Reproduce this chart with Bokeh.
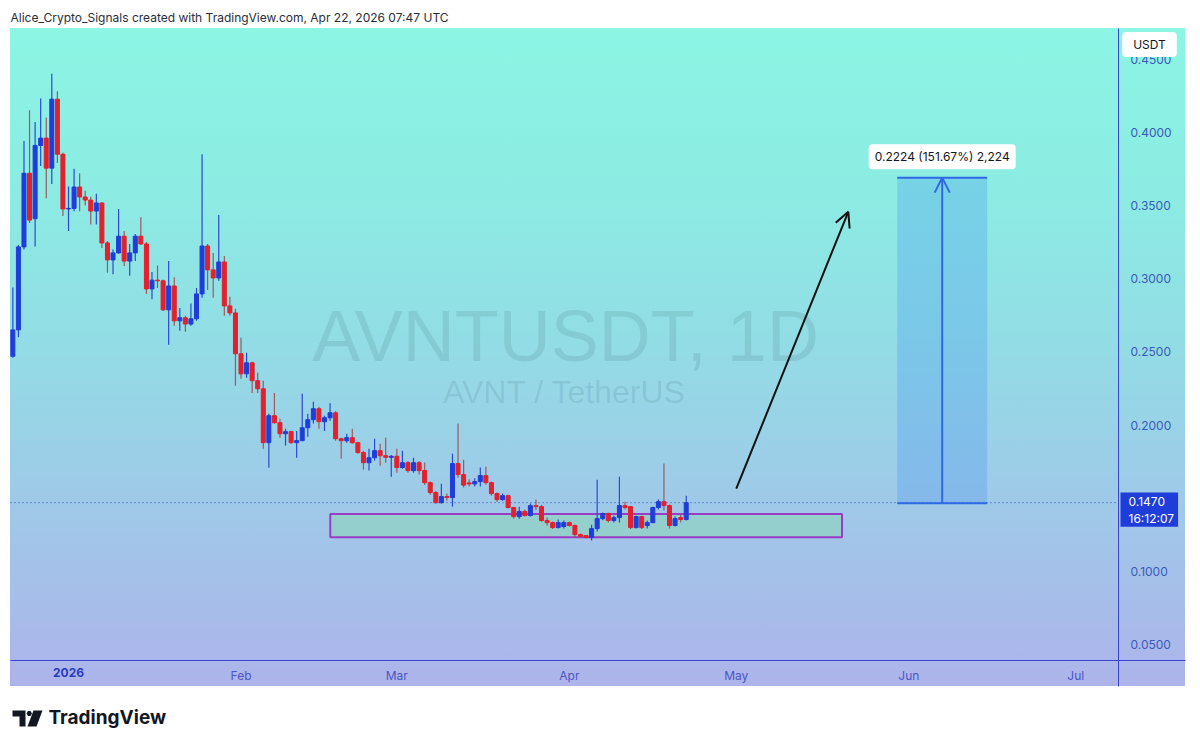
import pandas as pd
from bokeh.plotting import figure
from bokeh.models import (ColumnDataSource, Range1d, FixedTicker, NumeralTickFormatter,
                          LinearAxis, Label, Arrow, OpenHead, PolyAnnotation)
from bokeh.embed import file_html
from bokeh.resources import INLINE

# ---------------- data ----------------
first_day = "2025-12-22"
open_ = [0.247, 0.265, 0.3217, 0.372, 0.341, 0.391, 0.396, 0.3755, 0.4226, 0.385,
         0.3476, 0.348, 0.3626, 0.3558, 0.3537, 0.3462, 0.3517, 0.3244, 0.3128, 0.3176,
         0.329, 0.312, 0.3176, 0.329, 0.3237, 0.293, 0.299, 0.2985, 0.2787, 0.295,
         0.2712, 0.2733, 0.269, 0.2726, 0.2896, 0.3223, 0.306, 0.3005, 0.3114, 0.2814,
         0.2766, 0.2487, 0.235, 0.2425, 0.2303, 0.2248, 0.188, 0.2064, 0.2016, 0.1941,
         0.1955, 0.188, 0.1894, 0.1982, 0.2037, 0.2112, 0.2023, 0.205, 0.2084, 0.1907,
         0.1893, 0.1914, 0.188, 0.1812, 0.1743, 0.1777, 0.1825, 0.1791, 0.178, 0.1787,
         0.171, 0.1743, 0.1689, 0.1743, 0.169, 0.1607, 0.1539, 0.147, 0.1512, 0.1505,
         0.1737, 0.1662, 0.1605, 0.1598, 0.1614, 0.1655, 0.1607, 0.1532, 0.1491, 0.1518,
         0.1437, 0.1375, 0.141, 0.1382, 0.145, 0.1443, 0.1348, 0.1334, 0.13, 0.1307,
         0.1334, 0.1314, 0.1252, 0.1245, 0.1232, 0.1293, 0.1361, 0.1396, 0.1348, 0.1368,
         0.145, 0.1443, 0.13, 0.1375, 0.1314, 0.1334, 0.1437, 0.1477, 0.145, 0.1314,
         0.1368, 0.1355]
high_ = [0.294, 0.323, 0.394, 0.415, 0.407, 0.423, 0.410, 0.440, 0.428, 0.386,
         0.363, 0.375, 0.372, 0.360, 0.356, 0.358, 0.352, 0.3257, 0.320, 0.3476,
         0.3326, 0.3237, 0.3305, 0.342, 0.325, 0.3046, 0.309, 0.2995, 0.312, 0.301,
         0.280, 0.2746, 0.283, 0.2937, 0.385, 0.3237, 0.3176, 0.3435, 0.3155, 0.2876,
         0.2794, 0.2596, 0.2494, 0.2432, 0.2357, 0.2303, 0.2078, 0.222, 0.2043, 0.1975,
         0.1962, 0.196, 0.2214, 0.2078, 0.216, 0.2125, 0.2064, 0.215, 0.2095, 0.1914,
         0.194, 0.1975, 0.1887, 0.1825, 0.1839, 0.1907, 0.1873, 0.1914, 0.1795, 0.1839,
         0.1825, 0.1755, 0.1777, 0.1755, 0.1745, 0.1614, 0.155, 0.16, 0.1532, 0.1805,
         0.201, 0.1764, 0.163, 0.1637, 0.171, 0.1716, 0.1614, 0.154, 0.1532, 0.1525,
         0.1443, 0.1443, 0.1423, 0.1464, 0.1491, 0.1455, 0.1368, 0.1341, 0.1355, 0.1348,
         0.1341, 0.1321, 0.1259, 0.1248, 0.132, 0.1627, 0.1403, 0.1403, 0.138, 0.1648,
         0.1477, 0.1448, 0.138, 0.138, 0.1348, 0.1443, 0.1491, 0.1737, 0.1457, 0.1375,
         0.139, 0.1518]
low_ = [0.246, 0.260, 0.320, 0.338, 0.322, 0.377, 0.355, 0.3646, 0.379, 0.3428,
        0.3326, 0.346, 0.346, 0.350, 0.337, 0.337, 0.321, 0.304, 0.303, 0.317,
        0.3087, 0.302, 0.312, 0.323, 0.2896, 0.286, 0.2937, 0.278, 0.2548, 0.2678,
        0.2644, 0.2637, 0.2678, 0.2712, 0.287, 0.2923, 0.287, 0.2985, 0.2746, 0.2746,
        0.2269, 0.2316, 0.2323, 0.222, 0.222, 0.1839, 0.1709, 0.201, 0.1914, 0.186,
        0.1873, 0.1777, 0.189, 0.192, 0.201, 0.1975, 0.196, 0.203, 0.1893, 0.177,
        0.188, 0.1873, 0.1805, 0.1696, 0.169, 0.1757, 0.1723, 0.1743, 0.1648, 0.1675,
        0.1702, 0.1675, 0.1675, 0.1662, 0.159, 0.1525, 0.1464, 0.1464, 0.1484, 0.1443,
        0.164, 0.1573, 0.158, 0.158, 0.158, 0.1593, 0.1518, 0.1477, 0.1484, 0.143,
        0.136, 0.136, 0.1375, 0.1375, 0.142, 0.134, 0.1314, 0.129, 0.1293, 0.1293,
        0.1307, 0.1232, 0.1232, 0.1225, 0.1211, 0.1273, 0.135, 0.1334, 0.1334, 0.1334,
        0.1423, 0.129, 0.1293, 0.129, 0.1293, 0.133, 0.1423, 0.1416, 0.1293, 0.1307,
        0.1334, 0.1348]
close_ = [0.265, 0.3217, 0.372, 0.340, 0.391, 0.396, 0.3755, 0.4226, 0.385, 0.3476,
          0.348, 0.3626, 0.3558, 0.3537, 0.3462, 0.3517, 0.3244, 0.3128, 0.3176, 0.329,
          0.312, 0.3176, 0.329, 0.3237, 0.293, 0.299, 0.2985, 0.2787, 0.295, 0.2712,
          0.2733, 0.269, 0.2726, 0.2896, 0.3223, 0.306, 0.3005, 0.3114, 0.2814, 0.2766,
          0.2487, 0.235, 0.2425, 0.2303, 0.2248, 0.188, 0.2064, 0.2016, 0.1941, 0.1955,
          0.188, 0.1894, 0.1982, 0.2037, 0.2112, 0.2023, 0.205, 0.2084, 0.1907, 0.1893,
          0.1914, 0.188, 0.1812, 0.1743, 0.1777, 0.1825, 0.1791, 0.178, 0.1787, 0.171,
          0.1743, 0.1689, 0.1743, 0.1689, 0.1607, 0.1539, 0.147, 0.1512, 0.1505, 0.1737,
          0.1662, 0.159, 0.1598, 0.1614, 0.1655, 0.1607, 0.1532, 0.1491, 0.1518, 0.1437,
          0.1375, 0.141, 0.1382, 0.145, 0.1443, 0.1348, 0.1334, 0.13, 0.1334, 0.1334,
          0.1314, 0.1252, 0.124, 0.1232, 0.1293, 0.1361, 0.1396, 0.1348, 0.1368, 0.145,
          0.1437, 0.13, 0.1375, 0.13, 0.1334, 0.1437, 0.1477, 0.145, 0.1314, 0.1361,
          0.1355, 0.147]

month_ticks = ["2026-01-01", "2026-02-01", "2026-03-01", "2026-04-01",
               "2026-05-01", "2026-06-01", "2026-07-01"]
month_labels = ["2026", "Feb", "Mar", "Apr", "May", "Jun", "Jul"]
price_ticks = [0.05, 0.10, 0.15, 0.20, 0.25, 0.30, 0.35, 0.40, 0.45]

zone_dates = ["2026-02-17 01:00", "2026-05-20 00:00"]
zone_prices = [0.1234, 0.1393]

arrow_dates = ["2026-05-01 00:00", "2026-05-21 03:00"]
arrow_prices = [0.1566, 0.3457]

measure_dates = ["2026-05-29 22:00", "2026-06-15 02:00"]
measure_prices = [0.1466, 0.3690]
measure_text = "0.2224 (151.67%) 2,224"

symbol_text = "AVNTUSDT, 1D"
pair_text = "AVNT / TetherUS"
currency_text = "USDT"
countdown_text = "16:12:07"
header_text = "Alice_Crypto_Signals created with TradingView.com, Apr 22, 2026 07:47 UTC"
brand_text = "TradingView"

# ---------------- derived ----------------
origin = pd.Timestamp("2026-01-01")


def day(s):
    return (pd.Timestamp(s) - origin) / pd.Timedelta(days=1)


dates = pd.date_range(first_day, periods=len(close_), freq="D")
xday = [(d - origin) / pd.Timedelta(days=1) for d in dates]

UP, DOWN = "#1f3dd8", "#e3202c"
UP_WICK, DOWN_WICK = "#2b4ad2", "#a0585c"
up = [c >= o for o, c in zip(open_, close_)]
src = ColumnDataSource(dict(
    x=xday, open=open_, high=high_, low=low_, close=close_,
    top=[max(o, c) for o, c in zip(open_, close_)],
    bottom=[min(o, c) for o, c in zip(open_, close_)],
    body=[UP if u else DOWN for u in up],
    wick=[UP_WICK if u else DOWN_WICK for u in up],
))

# ---------------- figure: the frame covers the whole picture ----------------
W, H = 1190, 742
X0, X1 = -12.22, 201.62          # day range across the whole width
Y0, Y1 = -0.01679, 0.48999       # price range across the whole height
PRICE_AXIS_AT = 188.68           # day where the price scale begins
TIME_AXIS_AT = 0.03921           # price where the time scale begins

p = figure(width=W, height=H, x_range=Range1d(X0, X1), y_range=Range1d(Y0, Y1),
           output_backend="svg", toolbar_location=None,
           x_axis_type=None, y_axis_type=None,
           min_border_left=0, min_border_right=0, min_border_top=0, min_border_bottom=0,
           background_fill_color=None, border_fill_color=None)
p.min_border = 0
p.outline_line_color = None
p.grid.visible = False
p.styles = {
    "background": (
        "linear-gradient(to right, #ffffff 10px, rgba(255,255,255,0) 10px, "
        "rgba(255,255,255,0) 1185px, #ffffff 1185px), "
        "linear-gradient(to bottom, #ffffff 0px, #ffffff 28px, #8cf5e4 28px, "
        "#8cece3 188px, #92dde5 338px, #9ecbe8 488px, #aab8ea 648px, "
        "#adb4ea 686px, #ffffff 686px, #ffffff 100%)"
    )
}

# ---- axes (fixed inside the frame, as in the TradingView layout) ----
tick_days = [int(round(day(t))) for t in month_ticks]
AX_COLOR = "#3a46d2"


def style_axis(a):
    a.major_tick_line_color = None
    a.minor_tick_line_color = None
    a.major_tick_out = 0
    a.major_tick_in = 0
    a.major_label_text_font = "Inter"
    a.major_label_text_font_size = "12px"


xa = LinearAxis(fixed_location=TIME_AXIS_AT, bounds=(-10.42, 200.72),
                ticker=FixedTicker(ticks=tick_days[1:]),
                major_label_overrides={d: lab for d, lab in zip(tick_days[1:], month_labels[1:])})
style_axis(xa)
xa.axis_line_color = AX_COLOR
xa.major_label_text_color = "#4b55c6"
xa.major_label_standoff = 7
p.add_layout(xa, "below")

xa_year = LinearAxis(fixed_location=TIME_AXIS_AT, bounds=(-10.42, 200.72),
                     ticker=FixedTicker(ticks=tick_days[:1]),
                     major_label_overrides={tick_days[0]: month_labels[0]})
style_axis(xa_year)
xa_year.axis_line_color = None
xa_year.major_label_text_color = "#2b3bbf"
xa_year.major_label_text_font_style = "bold"
xa_year.major_label_standoff = 7
p.add_layout(xa_year, "below")

ya = LinearAxis(fixed_location=PRICE_AXIS_AT, bounds=(0.02146, 0.47087),
                ticker=FixedTicker(ticks=price_ticks),
                formatter=NumeralTickFormatter(format="0.0000"))
style_axis(ya)
ya.axis_line_color = AX_COLOR
ya.major_label_text_color = "#3a5ab8"
ya.major_label_standoff = 12
p.add_layout(ya, "right")

# ---- watermark ----
p.add_layout(Label(x=565, y=H - 335, x_units="screen", y_units="screen", text=symbol_text,
                   text_align="center", text_baseline="middle", text_font="Liberation Sans",
                   text_font_size="72px", text_color="#2a5560", text_alpha=0.13))
p.add_layout(Label(x=564, y=H - 391, x_units="screen", y_units="screen", text=pair_text,
                   text_align="center", text_baseline="middle", text_font="Liberation Sans",
                   text_font_size="32px", text_color="#2a5560", text_alpha=0.13))

# ---- support zone ----
zx = [day(d) for d in zone_dates]
p.quad(left=[zx[0]], right=[zx[1]], bottom=[zone_prices[0]], top=[zone_prices[1]],
       fill_color="#84dca8", fill_alpha=0.42, line_color="#9b3cc4", line_width=2)

# ---- current price line ----
p.segment(x0=[-10.42], x1=[PRICE_AXIS_AT], y0=[close_[-1]], y1=[close_[-1]],
          line_color="#2c48c4", line_dash="1 3", line_width=1)

# ---- candles ----
p.segment(x0="x", y0="low", x1="x", y1="high", line_color="wick", line_width=1.2, source=src)
p.vbar(x="x", width=0.72, top="top", bottom="bottom", fill_color="body",
       line_color="body", line_width=1, source=src)

# ---- measurement box ----
mx = [day(d) for d in measure_dates]
mc = (mx[0] + mx[1]) / 2
MEAS = "#2f68e4"
p.quad(left=[mx[0]], right=[mx[1]], bottom=[measure_prices[0]], top=[measure_prices[1]],
       fill_color="#3d8ef0", fill_alpha=0.27, line_color=None)
p.segment(x0=[mx[0], mx[0]], x1=[mx[1], mx[1]], y0=measure_prices, y1=measure_prices,
          line_color=MEAS, line_width=2)
p.add_layout(Arrow(end=OpenHead(size=15, line_color=MEAS, line_width=2),
                   x_start=mc, y_start=measure_prices[0], x_end=mc, y_end=measure_prices[1],
                   line_color=MEAS, line_width=2))
p.add_layout(Label(x=mc, y=measure_prices[1], y_offset=21, text=measure_text,
                   text_align="center", text_baseline="middle", text_font="Inter",
                   text_font_size="12px", text_color="#131722",
                   background_fill_color="#ffffff", background_fill_alpha=1.0,
                   border_radius=4, padding=dict(left=6, right=6, top=5, bottom=5)))

# ---- projection arrow ----
ax = [day(d) for d in arrow_dates]
p.add_layout(Arrow(end=OpenHead(size=15, line_color="#111111", line_width=2),
                   x_start=ax[0], y_start=arrow_prices[0], x_end=ax[1], y_end=arrow_prices[1],
                   line_color="#111111", line_width=2))

# ---- price scale tags ----
p.add_layout(Label(x=1149, y=H - 44, x_units="screen", y_units="screen", text=currency_text,
                   text_align="center", text_baseline="middle", text_font="Inter",
                   text_font_size="12px", text_color="#131722",
                   background_fill_color="#ffffff", background_fill_alpha=1.0,
                   border_radius=4, padding=dict(left=11, right=11, top=5, bottom=5)))
p.add_layout(Label(x=1120, x_units="screen", y=close_[-1], y_offset=-7,
                   text=f"{close_[-1]:.4f}\n{countdown_text}",
                   text_align="left", text_baseline="middle", text_font="Inter",
                   text_font_size="12px", text_color="#ffffff", text_line_height=1.15,
                   background_fill_color="#1f3dd8", background_fill_alpha=1.0,
                   padding=dict(left=8, right=4, top=1, bottom=1)))

# ---- header and footer ----
p.add_layout(Label(x=10, y=H - 17, x_units="screen", y_units="screen", text=header_text,
                   text_align="left", text_baseline="middle", text_font="Inter",
                   text_font_size="12px", text_color="#2a2e39"))
p.add_layout(Label(x=48, y=H - 717, x_units="screen", y_units="screen", text=brand_text,
                   text_align="left", text_baseline="middle", text_font="Inter",
                   text_font_size="19px", text_font_style="bold", text_color="#131722"))
logo_t = ([12, 25, 25, 19, 19, 12], [710, 710, 726, 726, 716, 716])
logo_dot = ([27.5, 30, 31.5, 30, 27.5, 26], [710.5, 710.5, 713, 715.5, 715.5, 713])
logo_slash = ([33, 42, 36, 27], [710, 710, 726, 726])
for xs, ys in (logo_t, logo_dot, logo_slash):
    p.add_layout(PolyAnnotation(xs=xs, ys=[H - v for v in ys], xs_units="screen",
                                ys_units="screen", fill_color="#131722", fill_alpha=1.0,
                                line_color=None))

open("out.html", "w").write(file_html(p, INLINE))
